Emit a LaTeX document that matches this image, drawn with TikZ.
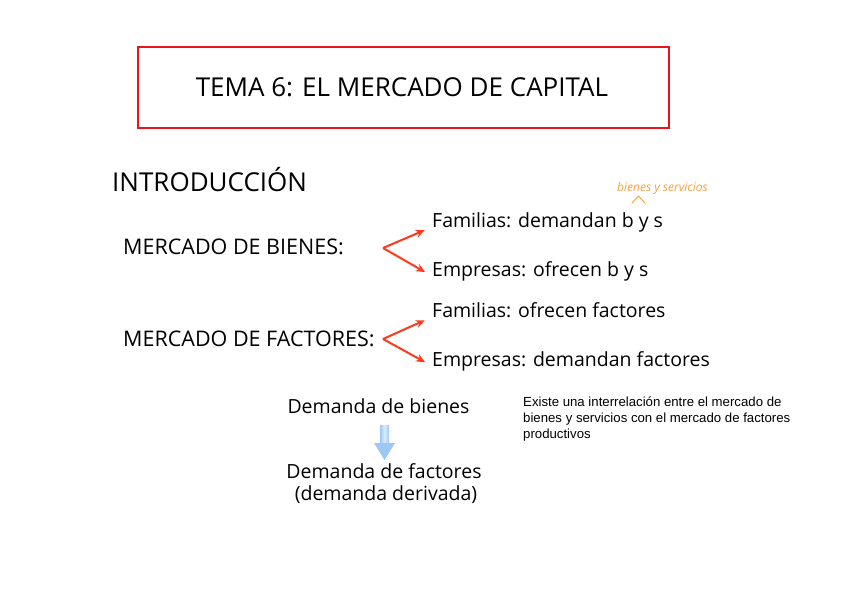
\documentclass[tikz,border=0pt]{standalone}
\usepackage{fontspec}
\setmainfont{Open Sans}
\newfontfamily\helv{Liberation Sans}
\usetikzlibrary{arrows.meta,calc}
\definecolor{boxred}{HTML}{E8141E}
\definecolor{arrred}{HTML}{FF3A1C}
\definecolor{noteor}{HTML}{F4A040}
\definecolor{bluehead}{HTML}{9CC8F6}
\definecolor{blueshaft}{HTML}{C4DEFA}
\tikzset{
  big/.style={inner sep=0pt, font=\fontsize{26}{30}\selectfont},
  mid/.style={inner sep=0pt, font=\fontsize{21.5}{25}\selectfont},
  txt/.style={inner sep=0pt, font=\fontsize{19.5}{23}\selectfont},
  small/.style={inner sep=0pt, font=\helv\fontsize{13.2}{16}\selectfont, align=left},
  brarrow/.style={draw=arrred, line width=2pt, -{Stealth[length=9pt,width=8pt]}, shorten >=8pt},
}
\begin{document}
\begin{tikzpicture}[x=1pt,y=-1pt]
\useasboundingbox (0,0) rectangle (848,599);
\fill[white] (0,0) rectangle (848,599);
% title box
\draw[boxred, line width=2.6pt] (138,47) rectangle (669,128);
\node[big, anchor=base] (title) at (402,97) {TEMA 6: EL MERCADO DE CAPITAL};
\node[big, anchor=base west] (intro) at (112,191) {INTRODUCCIÓN};
% mercado de bienes
\node[mid, anchor=base west] (mb) at (123,254) {MERCADO DE BIENES:};
\coordinate (vb) at (383,248);
\node[txt, anchor=base west] (fb) at (432,227) {Familias: demandan b y s};
\node[txt, anchor=base west] (eb) at (432,276) {Empresas: ofrecen b y s};
\draw[brarrow] (vb) -- (fb.base west);
\draw[brarrow] (vb) -- (eb.base west);
% annotation
\node[inner sep=0pt, text=noteor, font=\itshape\fontsize{12}{14}\selectfont, anchor=base west] (note) at (617,191) {bienes y servicios};
\draw[noteor, line width=0.9pt, line cap=round, line join=round] (632,203) -- (638.5,196) -- (645,203);
% mercado de factores
\node[mid, anchor=base west] (mf) at (123,346) {MERCADO DE FACTORES:};
\coordinate (vf) at (383,339);
\node[txt, anchor=base west] (ff) at (432,317) {Familias: ofrecen factores};
\node[txt, anchor=base west] (ef) at (432,366) {Empresas: demandan factores};
\draw[brarrow] (vf) -- (ff.base west);
\draw[brarrow] (vf) -- (ef.base west);
% demanda
\node[txt, anchor=base] (db) at (378.5,413) {Demanda de bienes};
\node[txt, anchor=base] (df) at (384,478) {Demanda de factores};
\node[txt, anchor=base] (dd) at (386,500) {(demanda derivada)};
% blue arrow
\fill[left color=bluehead, right color=bluehead, middle color=blueshaft!60!white] (380,425) rectangle (389,444);
\fill[bluehead] (374,443) -- (395,443) -- (384.5,460) -- cycle;
% note text
\node[small, anchor=north west] (ex) at (523,397) {Existe una interrelación entre el mercado de\\bienes y servicios con el mercado de factores\\productivos};
\end{tikzpicture}
\end{document}
